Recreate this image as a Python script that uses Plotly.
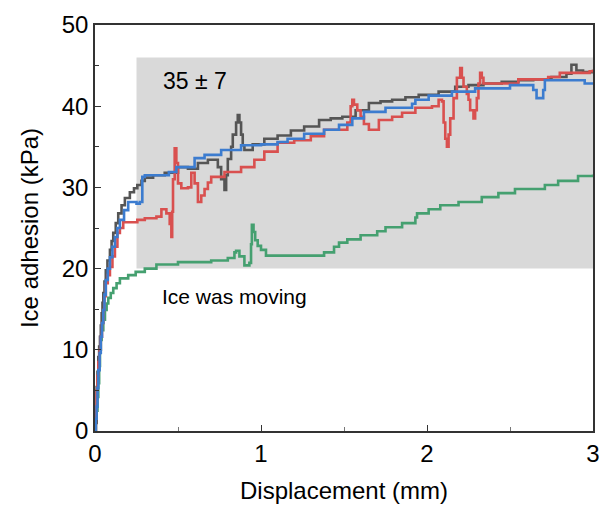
import plotly.graph_objects as go

# Displacement (mm) / ice adhesion (kPa) traces for the four samples
x_black = [0, 0.005, 0.01, 0.015, 0.02, 0.025, 0.03, 0.035, 0.04, 0.045, 0.05, 0.057, 0.065, 0.075,
           0.09, 0.10, 0.11, 0.125, 0.14, 0.16, 0.18, 0.21, 0.235, 0.255, 0.28, 0.30,
           0.35, 0.42, 0.50, 0.56, 0.62, 0.68, 0.72, 0.74, 0.76, 0.78, 0.79, 0.80, 0.82, 0.83, 0.85,
           0.86, 0.87, 0.88, 0.89, 0.90, 0.95,
           1.02, 1.10, 1.18, 1.26, 1.35, 1.42, 1.49, 1.57, 1.65, 1.72, 1.79, 1.87, 1.95, 2.07, 2.17,
           2.25, 2.34, 2.45, 2.55, 2.64, 2.75, 2.84, 2.87, 2.90, 2.94, 3.0]
y_black = [0, 1.0, 5.4, 7.3, 9.1, 10.4, 11.6, 13.0, 14.5, 15.8, 17.0, 18.4, 19.8, 21.0,
           22.3, 23.4, 24.4, 25.6, 26.8, 27.8, 28.7, 29.4, 29.9, 30.3, 30.8, 31.2,
           31.5, 31.8, 32.5, 32.3, 33.0, 33.4, 33.4, 32.5, 31.0, 29.7, 31.5, 33.5, 35.0, 36.5, 38.0,
           38.9, 38.0, 36.5, 35.2, 34.6, 35.3,
           36.0, 36.4, 37.0, 37.5, 38.3, 38.5, 38.7, 39.5, 40.4, 40.6, 40.8, 41.1, 41.4, 41.8, 42.4,
           42.6, 42.8, 43.0, 43.2, 43.3, 43.6, 44.0, 45.1, 44.4, 44.2, 44.5]

x_blue = [0, 0.005, 0.01, 0.015, 0.02, 0.028, 0.035, 0.042, 0.05, 0.057, 0.065, 0.077, 0.09, 0.105,
          0.12, 0.135, 0.15, 0.175, 0.20, 0.25, 0.27, 0.285, 0.30, 0.445,
          0.49, 0.60, 0.66, 0.76, 0.88, 1.00, 1.10, 1.16, 1.26, 1.38, 1.47, 1.55, 1.62, 1.75, 1.91,
          1.93, 2.01, 2.15, 2.29, 2.50, 2.64, 2.66, 2.67, 2.70, 2.71, 2.73, 2.95, 3.0]
y_blue = [0, 1.5, 3.0, 5.3, 7.5, 9.6, 11.6, 13.3, 14.9, 16.8, 18.6, 20.0, 21.4, 22.7,
          23.9, 25.0, 26.0, 27.2, 28.2, 28.0, 28.2, 31.3, 31.5, 31.9,
          32.5, 33.6, 34.0, 34.6, 35.2, 35.3, 35.6, 36.0, 36.6, 37.1, 37.7, 38.5, 39.3, 39.8, 40.3,
          40.8, 41.3, 41.8, 42.2, 42.6, 42.0, 41.0, 41.0, 42.0, 43.2, 43.2, 42.8, 42.8]

x_red = [0, 0.005, 0.01, 0.015, 0.02, 0.028, 0.035, 0.042, 0.05, 0.057, 0.065, 0.077, 0.09, 0.105,
         0.12, 0.135, 0.15, 0.17, 0.255, 0.30, 0.37, 0.40, 0.43,
         0.45, 0.46, 0.465, 0.47, 0.48, 0.49, 0.50, 0.52, 0.56, 0.58, 0.60, 0.62, 0.64, 0.66, 0.68,
         0.70, 0.78, 0.88, 0.96, 1.02,
         1.10, 1.20, 1.30, 1.38, 1.52, 1.54, 1.55, 1.56, 1.58, 1.60, 1.62, 1.65, 1.68, 1.71, 1.79,
         1.85, 1.93, 2.03, 2.07, 2.09, 2.10, 2.11, 2.12, 2.13, 2.14, 2.16, 2.18, 2.20, 2.21, 2.22,
         2.24, 2.25, 2.26, 2.28, 2.29, 2.30, 2.31, 2.32, 2.33, 2.34, 2.55, 2.73, 2.80, 2.98, 3.0]
y_red = [0, 2.5, 5.0, 6.8, 8.5, 10.0, 11.6, 13.3, 14.9, 16.6, 18.2, 19.2, 20.2, 21.5,
         22.7, 24.4, 25.0, 25.7, 26.0, 26.2, 26.4, 27.3, 26.8,
         25.5, 23.9, 27.0, 31.0, 34.8, 33.0, 30.5, 29.9, 30.0, 31.8, 30.5, 28.2, 29.0, 29.8, 30.6,
         31.3, 31.9, 32.5, 33.4, 34.4,
         35.5, 35.8, 36.3, 37.1, 38.0, 40.0, 40.8, 40.2, 39.5, 38.7, 37.8, 37.1, 37.1, 38.3, 38.7,
         39.2, 39.8, 40.0, 40.8, 40.6, 38.0, 36.0, 35.0, 36.5, 38.5, 41.0, 43.5, 44.7, 43.5, 42.4,
         41.5, 40.8, 39.5, 38.5, 39.5, 41.0, 42.8, 44.1, 43.5, 42.8, 43.3, 43.6, 44.1, 44.3, 44.5]

x_green = [0, 0.005, 0.01, 0.015, 0.02, 0.025, 0.03, 0.035, 0.04, 0.05, 0.06, 0.07, 0.08, 0.095,
           0.11, 0.13, 0.15, 0.20, 0.245, 0.30, 0.37, 0.50, 0.70,
           0.80, 0.84, 0.85, 0.87, 0.90, 0.93, 0.94, 0.945, 0.955, 0.965, 0.98, 1.00, 1.03, 1.10,
           1.35, 1.38, 1.44, 1.47, 1.52, 1.60, 1.70, 1.75, 1.85, 1.93, 1.94, 2.01, 2.08, 2.19, 2.33,
           2.43, 2.53, 2.71, 2.79, 2.91, 3.0]
y_green = [0, 1.2, 2.5, 4.2, 5.9, 8.0, 10.0, 11.2, 12.4, 13.7, 14.9, 15.7, 16.4, 17.0,
           17.6, 18.2, 18.8, 19.2, 19.6, 20.0, 20.5, 20.8, 21.0,
           21.3, 22.0, 22.2, 21.5, 20.4, 20.7, 23.0, 25.4, 24.5, 23.5, 22.8, 22.3, 21.6, 21.6,
           21.6, 22.0, 22.7, 23.2, 23.6, 24.1, 24.6, 25.1, 25.6, 26.3, 26.8, 27.3, 27.8, 28.2, 28.8,
           29.3, 29.8, 30.3, 30.8, 31.4, 31.6]

# Shaded band of the moving-ice regime
band_x = [0.25, 3.0]
band_y = [20, 46]

FONT = "Liberation Sans, Arial, sans-serif"

fig = go.Figure()
series = [
    (x_green, y_green, "#45a070"),
    (x_black, y_black, "#555555"),
    (x_red, y_red, "#d9504f"),
    (x_blue, y_blue, "#3c7ccf"),
]
for xs, ys, col in series:
    fig.add_trace(go.Scatter(x=xs, y=ys, mode="lines",
                             line=dict(color=col, width=2.6, shape="hv"),
                             showlegend=False, hoverinfo="skip"))

fig.add_shape(type="rect", x0=band_x[0], x1=band_x[1], y0=band_y[0], y1=band_y[1],
              fillcolor="#d9d9d9", line=dict(width=0), layer="below")

fig.add_annotation(x=0.605, y=43.1, text="35 ± 7", showarrow=False,
                   font=dict(family=FONT, size=23, color="black"))
fig.add_annotation(x=0.843, y=16.6, text="Ice was moving", showarrow=False,
                   font=dict(family=FONT, size=21, color="black"))

axis_common = dict(showgrid=False, zeroline=False, showline=True, linecolor="#333333",
                   linewidth=1.5, mirror=True, ticks="inside", ticklen=6, tickwidth=1.3,
                   tickcolor="#333333", tickfont=dict(family=FONT, size=24, color="black"))

fig.update_xaxes(range=[0, 3], tickvals=[0, 1, 2, 3],
                 minor=dict(tickvals=[0.5, 1.5, 2.5], ticks="inside", ticklen=4,
                            tickcolor="#777777", tickwidth=1.3),
                 title=dict(text="Displacement (mm)", font=dict(family=FONT, size=24, color="black"),
                            standoff=17),
                 **axis_common)
fig.update_yaxes(range=[0, 50], tickvals=[0, 10, 20, 30, 40, 50],
                 minor=dict(tickvals=[5, 15, 25, 35, 45], ticks="inside", ticklen=4,
                            tickcolor="#333333", tickwidth=1.3),
                 title=dict(text="Ice adhesion (kPa)", font=dict(family=FONT, size=24, color="black"),
                            standoff=16),
                 **axis_common)

fig.update_layout(width=605, height=508, margin=dict(l=95, r=5, t=25, b=77),
                  plot_bgcolor="white", paper_bgcolor="white")

fig.write_html("out.html")
